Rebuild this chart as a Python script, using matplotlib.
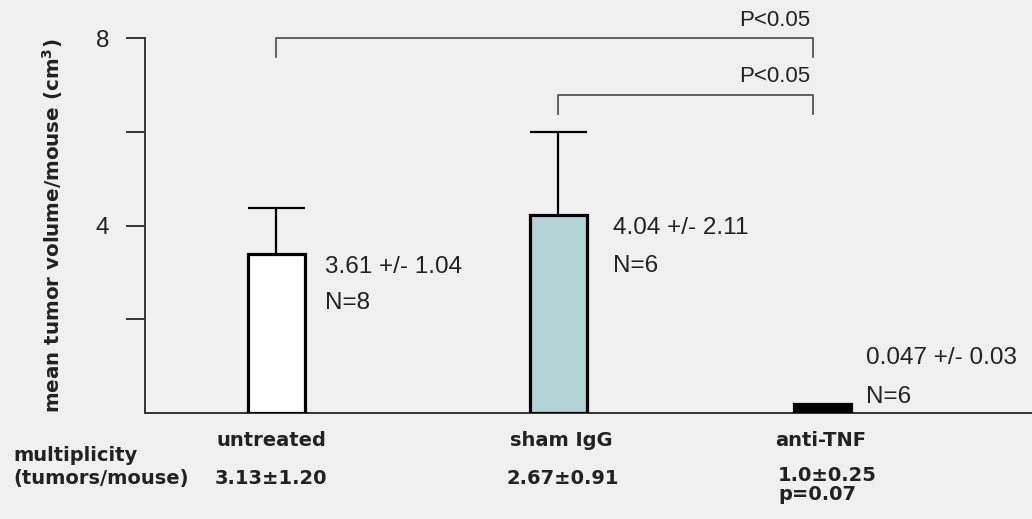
import numpy as np
import matplotlib.pyplot as plt

plt.rcParams['font.family'] = ['Liberation Sans', 'DejaVu Sans']

groups = ['untreated', 'sham IgG', 'anti-TNF']
heights = [3.4, 4.22, 0.2]
err_up = [0.97, 1.78, 0.0]
value_labels = ['3.61 +/- 1.04', '4.04 +/- 2.11', '0.047 +/- 0.03']
n_labels = ['N=8', 'N=6', 'N=6']
multiplicity = ['3.13±1.20', '2.67±0.91', '1.0±0.25\np=0.07']
yticks = [2, 4, 6, 8]
ytick_labels = ['', '4', '', '8']

xpos = np.array([0.0, 1.0, 1.936])
bar_w = 0.2
fills = ['white', '#b3d4d5', 'black']
bg = '#f0f0f0'
ink = '#222222'
bold = dict(family='DejaVu Sans', fontweight='bold', color=ink)

fig = plt.figure(figsize=(10.32, 5.19), dpi=100, facecolor=bg)
ax = fig.add_axes([0.1405, 0.2042, 0.8595, 0.7225], facecolor=bg)

ax.bar(xpos, heights, width=bar_w, color=fills, edgecolor='black', linewidth=2.3, zorder=3)
for x, h, e in zip(xpos, heights, err_up):
    if e > 0:
        ax.vlines(x, h, h + e, color='black', lw=1.6, zorder=2)
        ax.hlines(h + e, x - bar_w / 2, x + bar_w / 2, color='black', lw=1.6, zorder=2)

# mean +/- sd and N next to each bar
lab_dx = [0.072, 0.093, 0.054]
lab_y = [(3.11, 2.35), (3.95, 3.14), (1.17, 0.34)]
for i in range(3):
    tx = xpos[i] + bar_w / 2 + lab_dx[i]
    ax.text(tx, lab_y[i][0], value_labels[i], fontsize=17.5, color=ink, va='center', ha='left')
    ax.text(tx, lab_y[i][1], n_labels[i], fontsize=17.5, color=ink, va='center', ha='left')

# significance brackets
def bracket(x1, x2, y, drop, label, ly):
    ax.plot([x1, x1, x2, x2], [y - drop, y, y, y - drop], color='#555555', lw=1.3,
            clip_on=False)
    ax.text(x2 - 0.012, ly, label, fontsize=16, color=ink, ha='right', va='center')

bracket(xpos[0], xpos[2] - 0.032, 8.0, 0.41, 'P<0.05', 8.38)
bracket(xpos[1], xpos[2] - 0.032, 6.78, 0.39, 'P<0.05', 7.17)

ax.set_xlim(-0.466, 2.679)
ax.set_ylim(0, 8)
ax.set_yticks(yticks)
ax.set_yticklabels(ytick_labels, fontsize=17.5, color=ink)
ax.set_xticks([])
ax.tick_params(axis='y', direction='out', length=14, width=1.4, color='#333333', pad=12)
for s in ['top', 'right']:
    ax.spines[s].set_visible(False)
for s in ['left', 'bottom']:
    ax.spines[s].set_color('#333333')
    ax.spines[s].set_linewidth(1.4)

ax.set_ylabel('mean tumor volume/mouse (cm$^\\mathbf{3}$)', fontsize=14.3, labelpad=22, **bold)

# multiplicity row under the axis
ax.text(-0.934, -0.9, 'multiplicity', fontsize=14, ha='left', va='center', clip_on=False, **bold)
ax.text(-0.934, -1.387, '(tumors/mouse)', fontsize=14, ha='left', va='center',
        clip_on=False, **bold)
name_x = [-0.016, 1.009, 1.931]
for i in range(3):
    ax.text(name_x[i], -0.576, groups[i], fontsize=14, ha='center', va='center', **bold)
ax.text(-0.218, -1.387, multiplicity[0], fontsize=14, ha='left', va='center', **bold)
ax.text(1.0166, -1.387, multiplicity[1], fontsize=14, ha='center', va='center', **bold)
ax.text(1.778, -1.53, multiplicity[2], fontsize=14, ha='left', va='center',
        linespacing=1.0, **bold)

fig.savefig('out.png', dpi=100, facecolor=bg)
